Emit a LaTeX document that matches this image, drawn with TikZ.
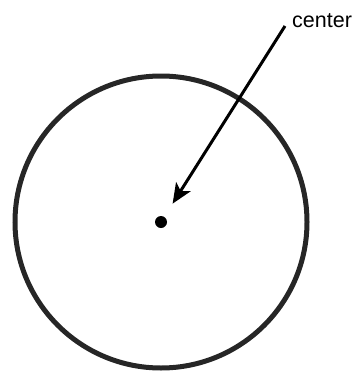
\documentclass[tikz,border=0pt]{standalone}
\usepackage{fontspec}
\setmainfont{Liberation Sans}
\usepackage{tikz}
\usetikzlibrary{arrows.meta, positioning}

\begin{document}
\begin{tikzpicture}[x=1pt, y=-1pt]
  \useasboundingbox (0,0) rectangle (358,372);

  \node[draw=black!85, line width=5pt, circle, minimum size=292pt, inner sep=0pt]
      (rim) at (161,222) {};
  \node[fill=black, circle, minimum size=12pt, inner sep=0pt]
      (ctr) at (161,222) {};

  \node[anchor=west, inner sep=0pt, font=\fontsize{21.5}{24}\selectfont]
      (lbl) at (292,21) {center};
  \coordinate (tail) at (285,26);

  \draw[line width=3pt, -{Stealth[length=20pt, width=17pt, inset=5pt]}, shorten >=15.5pt]
      (tail) -- (ctr);
\end{tikzpicture}
\end{document}
